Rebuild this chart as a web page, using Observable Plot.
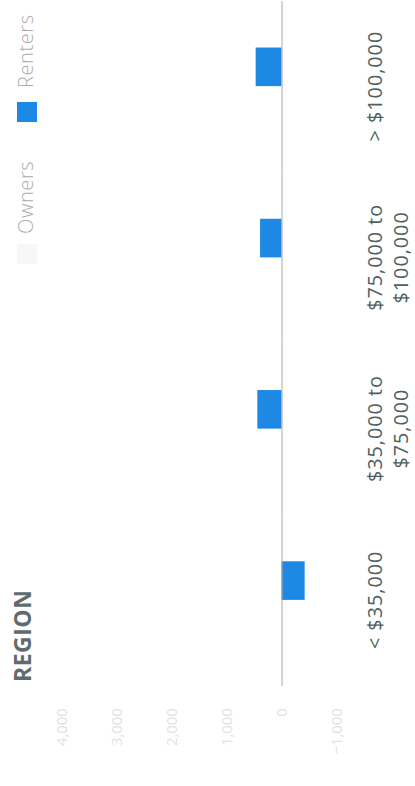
<!DOCTYPE html>
<html>
<head>
<meta charset="utf-8">
<script src="https://cdn.jsdelivr.net/npm/d3@7"></script>
<script src="https://cdn.jsdelivr.net/npm/@observablehq/plot@0.6"></script>
<style>
  html, body { margin: 0; padding: 0; background: #fff; overflow: hidden; width: 415px; height: 786px; }
  #rot { position: absolute; left: 0; top: 0; width: 786px; height: 415px;
         transform-origin: 0 0; transform: rotate(-90deg) translate(-786px, 0); background: #fff; }
  #chart { position: absolute; left: 0; top: 0; }
  #title { position: absolute; left: 104px; top: 11px; font: bold 23px/1 "Open Sans", sans-serif;
           color: #5f6b6d; letter-spacing: 0.5px; white-space: nowrap; }
  .lg { position: absolute; top: 16px; font: 300 20px/1 "Open Sans", sans-serif; color: #adadad;
        letter-spacing: 0.6px; white-space: nowrap; }
  .sw { position: absolute; top: 17px; width: 20px; height: 20px; }
  #chart svg g[aria-label="fx-axis tick label"] text { letter-spacing: 1px; font-weight: 500; }
</style>
</head>
<body>
<div id="rot">
  <div id="chart"></div>
  <div id="title">REGION</div>
  <div id="legend"></div>
</div>
<script>
// ---- data ----
const categories = ["< $35,000", "$35,000 to $75,000", "$75,000 to $100,000", "> $100,000"];
const categoryLabels = ["< $35,000", "$35,000 to\n$75,000", "$75,000 to\n$100,000", "> $100,000"];
const series = ["Owners", "Renters"];
const ownersValues = [0, 0, 0, 0];
const rentersValues = [-420, 440, 390, 470];
const yTicks = [-1000, 0, 1000, 2000, 3000, 4000];
const seriesColors = ["#f7f7f7", "#1e88e5"];

const rows = [];
categories.forEach((c, i) => {
  rows.push({category: c, series: "Owners", value: ownersValues[i]});
  rows.push({category: c, series: "Renters", value: rentersValues[i]});
});
const labelOf = new Map(categories.map((c, i) => [c, categoryLabels[i]]));

const chart = Plot.plot({
  width: 794,
  height: 415,
  marginLeft: 99,
  marginRight: 0,
  marginTop: 62,
  marginBottom: 75,
  style: {fontFamily: "'Open Sans', sans-serif", background: "transparent", overflow: "visible"},
  fx: {domain: categories, padding: 0, label: null},
  x: {domain: series, paddingInner: 0, paddingOuter: 1.17, axis: null},
  y: {domain: [-1000, 4000], label: null},
  color: {domain: series, range: seriesColors},
  marks: [
    Plot.axisY({ticks: yTicks, tickSize: 0, tickPadding: 23, tickFormat: d3.format(","),
                fontSize: 15, color: "#e2e2e2", label: null}),
    Plot.axisFx({anchor: "bottom", tickSize: 0, tickPadding: 27, tickFormat: d => labelOf.get(d),
                 fontSize: 20, lineHeight: 1.3, lineAnchor: "top", color: "#4f5f60", label: null}),
    Plot.barY(rows, {fx: "category", x: "series", y: "value", fill: "series"}),
    Plot.ruleY([0], {stroke: "#a8a8a8", strokeWidth: 1})
  ]
});
document.getElementById("chart").appendChild(chart);

// legend
const legend = document.getElementById("legend");
const swatchLeft = [522, 664];
const textLeft = [552, 698];
series.forEach((s, i) => {
  const sw = document.createElement("div");
  sw.className = "sw";
  sw.style.left = swatchLeft[i] + "px";
  sw.style.background = seriesColors[i];
  legend.appendChild(sw);
  const t = document.createElement("div");
  t.className = "lg";
  t.style.left = textLeft[i] + "px";
  t.textContent = s;
  legend.appendChild(t);
});
</script>
</body>
</html>
